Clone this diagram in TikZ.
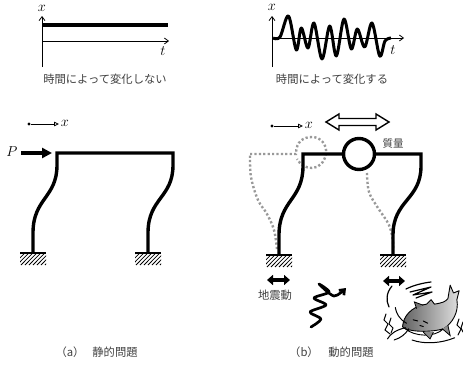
\documentclass[tikz,border=0pt]{standalone}
\usepackage{fontspec}
\newfontfamily\jp{Noto Sans CJK JP}
\usetikzlibrary{arrows.meta}

\tikzset{
  frame/.style={line width=3.4pt, line join=miter},
  axis/.style={line width=0.8pt, -{Straight Barb[length=4pt,width=6pt]}},
  dirarrow/.style={line width=0.8pt, -{Triangle[open,length=5pt,width=4.5pt]}},
  jtext/.style={font=\jp\fontsize{11.3}{12}\selectfont, text=black!75, inner sep=0pt},
  var/.style={inner sep=0pt, font=\fontsize{13.5}{14}\selectfont},
  mode/.style={black!40, line width=2.4pt, dash pattern=on 2.2pt off 2.2pt},
  shake/.style={line width=3.8pt, {Triangle[length=6pt,width=10pt]}-{Triangle[length=6pt,width=10pt]}},
  stroke/.style={line width=1pt, line cap=round},
  support/.pic={
    \draw[line width=1.6pt] (-13,0) -- (13,0);
    \begin{scope}
      \clip (-13,0.8) rectangle (13,12);
      \foreach \k in {-24,-20,...,12} \draw[line width=0.8pt] (\k,12) -- (\k+11,0.8);
    \end{scope}
  }
}

\begin{document}
\begin{tikzpicture}[x=1pt,y=-1pt]
\useasboundingbox (0,0) rectangle (463,364);

% ---------- x(t) constant ----------
\coordinate (o1) at (42,67);
\coordinate (x1) at (42,16);
\coordinate (t1s) at (42,41);
\coordinate (t1e) at (169,41);
\coordinate (c1s) at (42.5,25);
\coordinate (c1e) at (168,25);
\draw[axis] (o1) -- (x1);
\draw[axis] (t1s) -- (t1e);
\draw[line width=3.5pt] (c1s) -- (c1e);
\node[var] (xl1) at (42,8) {$x$};
\node[var] (tl1) at (163,51) {$t$};
\node[jtext] (cap1) at (105,79) {時間によって変化しない};

% ---------- x(t) varying ----------
\coordinate (o2) at (272,67);
\coordinate (x2) at (272,16);
\coordinate (t2s) at (272,38);
\coordinate (t2e) at (404,38);
\draw[axis] (o2) -- (x2);
\draw[axis] (t2s) -- (t2e);
\draw[line width=3pt, line join=round] plot[smooth, tension=0.55] coordinates {
  (273,38) (280,37) (288.5,16) (296.3,50) (301.3,28) (308,48) (314,23)
  (322,59) (329.7,26) (336.3,56) (344,19) (351.3,49) (357.3,29) (364.7,47)
  (372,23) (379.7,56) (385,41) (391,38)};
\node[var] (xl2) at (272,7) {$x$};
\node[var] (tl2) at (393,50) {$t$};
\node[jtext] (cap2) at (332,79) {時間によって変化する};

% ---------- (a) static frame ----------
\node[circle, fill, inner sep=0pt, minimum size=3.2pt] (d1) at (29,124) {};
\coordinate (d1e) at (59,124);
\draw[dirarrow] (d1) -- (d1e);
\node[var] (xd1) at (65,123) {$x$};

\coordinate (a-bl) at (33,253);
\coordinate (a-tl) at (57,153);
\coordinate (a-tr) at (173,153);
\coordinate (a-br) at (148,253);
\draw[frame] (a-bl) -- (33,233) .. controls (33,198) and (57,198) .. (57,165)
  -- (a-tl) -- (a-tr) -- (173,165) .. controls (173,198) and (148,198) .. (148,233) -- (a-br);
\pic at (a-bl) {support};
\pic at (a-br) {support};

\node[var] (P) at (12,152) {$P$};
\coordinate (Ps) at (21,153);
\coordinate (Pe) at (52,153);
\draw[line width=4.5pt, -{Triangle[length=10pt,width=10pt]}] (Ps) -- (Pe);

% ---------- (b) dynamic frame ----------
\node[circle, fill, inner sep=0pt, minimum size=3.2pt] (d2) at (272,126) {};
\coordinate (d2e) at (303,126);
\draw[dirarrow] (d2) -- (d2e);
\node[var] (xd2) at (309,125) {$x$};

% deflected shape (grey, dotted)
\draw[mode] plot[smooth, tension=0.6] coordinates {
  (277,249) (274,230) (267,214) (258,200) (251,177) (250,155)};
\draw[mode] (250,154) -- (296,154)
  .. controls (296,141) and (304,137) .. (312,137)
  .. controls (321,137) and (327,145) .. (326,153)
  .. controls (325,162) and (319,168) .. (312,168)
  .. controls (305,168) and (300,164) .. (297,159);
\draw[mode] plot[smooth, tension=0.6] coordinates {
  (367,173) (369,192) (378,208) (389,225) (393,242) (393,250)};

\node[circle, draw, line width=3.4pt, minimum size=31pt, inner sep=0pt] (mass) at (359,154) {};
\coordinate (b-bl) at (279,255);
\coordinate (b-tl) at (303,154);
\coordinate (b-tr) at (421,154);
\coordinate (b-br) at (393,255);
\draw[frame] (b-bl) -- (279,235) .. controls (279,200) and (303,200) .. (303,166)
  -- (b-tl) -- (mass.west);
\draw[frame] (mass.east) -- (b-tr) -- (421,166) .. controls (421,200) and (393,200) .. (393,235) -- (b-br);
\pic at (b-bl) {support};
\pic at (b-br) {support};
\node[jtext, font=\jp\fontsize{10.5}{11}\selectfont] (mlab) at (393,144) {質量};

% swinging of the mass
\draw[line width=1.4pt, fill=white, line join=miter]
  (326,122) -- (339,114) -- (339,118.5) -- (376,118.5) -- (376,114) -- (389,122)
  -- (376,130) -- (376,125.5) -- (339,125.5) -- (339,130) -- cycle;

% ground motion
\coordinate (g1a) at (267,280);
\coordinate (g1b) at (290,280);
\coordinate (g2a) at (383,281);
\coordinate (g2b) at (405,281);
\draw[shake] (g1a) -- (g1b);
\draw[shake] (g2a) -- (g2b);
\node[jtext] (eq) at (275,295) {地震動};

% seismic wave
\draw[line width=2.7pt, line cap=round, line join=round, -{Straight Barb[length=4.5pt,width=7pt]}]
  plot[smooth, tension=0.5] coordinates {
  (311,327) (321,319) (310,312) (326,305) (314,298) (329,292) (319,284) (334,296) (346,288)};

% catfish
\begin{scope}[shift={(430,312)}, scale=1.12, shift={(-430,-312)}]
\shade[left color=black!62, right color=black!12, draw=black, line width=0.9pt, line join=round]
  (406,322) .. controls (408,312) and (418,306) .. (427,305)
  -- (431,301) -- (434,305)
  .. controls (440,304) and (444,303) .. (446,300)
  -- (448,288) -- (451,295) -- (456,293) -- (454,301)
  .. controls (456,312) and (450,322) .. (442,327)
  .. controls (432,332) and (415,331) .. (408,327)
  .. controls (405,326) and (405,324) .. (406,322) -- cycle;
\draw[fill=white, line width=0.9pt] (408,327) .. controls (416,334) and (434,335) .. (442,327)
  .. controls (432,330) and (416,330) .. (408,327) -- cycle;
\draw[fill=black!45, line width=0.8pt] (424,330) -- (430,336) -- (433,330);
\draw[fill=black!45, line width=0.8pt] (441,327) -- (448,333) -- (446,324);
\draw[fill=black!55, line width=0.8pt] (418,309) -- (416,303) -- (424,306);
\draw[stroke] (415,319) -- (419,320);
\draw[stroke] (424,320) -- (428,322);
\draw[stroke] (421,324) -- (424,325);
\draw[stroke] (409,322) .. controls (402,318) and (400,313) .. (399,308);
\draw[stroke] (408,326) .. controls (400,328) and (395,331) .. (392,336);
\draw[stroke] (411,327) .. controls (408,332) and (404,335) .. (398,337);
\draw[stroke] (414,337) .. controls (425,341) and (440,340) .. (452,335);
\end{scope}
% motion lines
\draw[line width=1.2pt, line cap=round] (392,286) .. controls (386,293) and (386,301) .. (389,307);
\draw[line width=1.2pt, line cap=round] (406,289) .. controls (414,285) and (423,283) .. (431,282);
\draw[line width=1.2pt, line cap=round, line join=round] (410,292) -- (431,287) -- (413,295) -- (432,292) -- (416,298);
\draw[stroke] (386,314) -- (384,320) -- (388,324) -- (385,330) -- (390,334);
\draw[stroke] (391,318) -- (389,324) -- (393,328) -- (391,333);
\draw[stroke] (459,319) -- (457,325) -- (461,329) -- (458,335);
\draw[stroke] (463,322) -- (461,328) -- (463,332);

% captions
\node[jtext] (capa) at (70,352) {（a）};
\node[jtext] (capa2) at (115,352) {静的問題};
\node[jtext] (capb) at (304,352) {（b）};
\node[jtext] (capb2) at (351,352) {動的問題};
\end{tikzpicture}
\end{document}
